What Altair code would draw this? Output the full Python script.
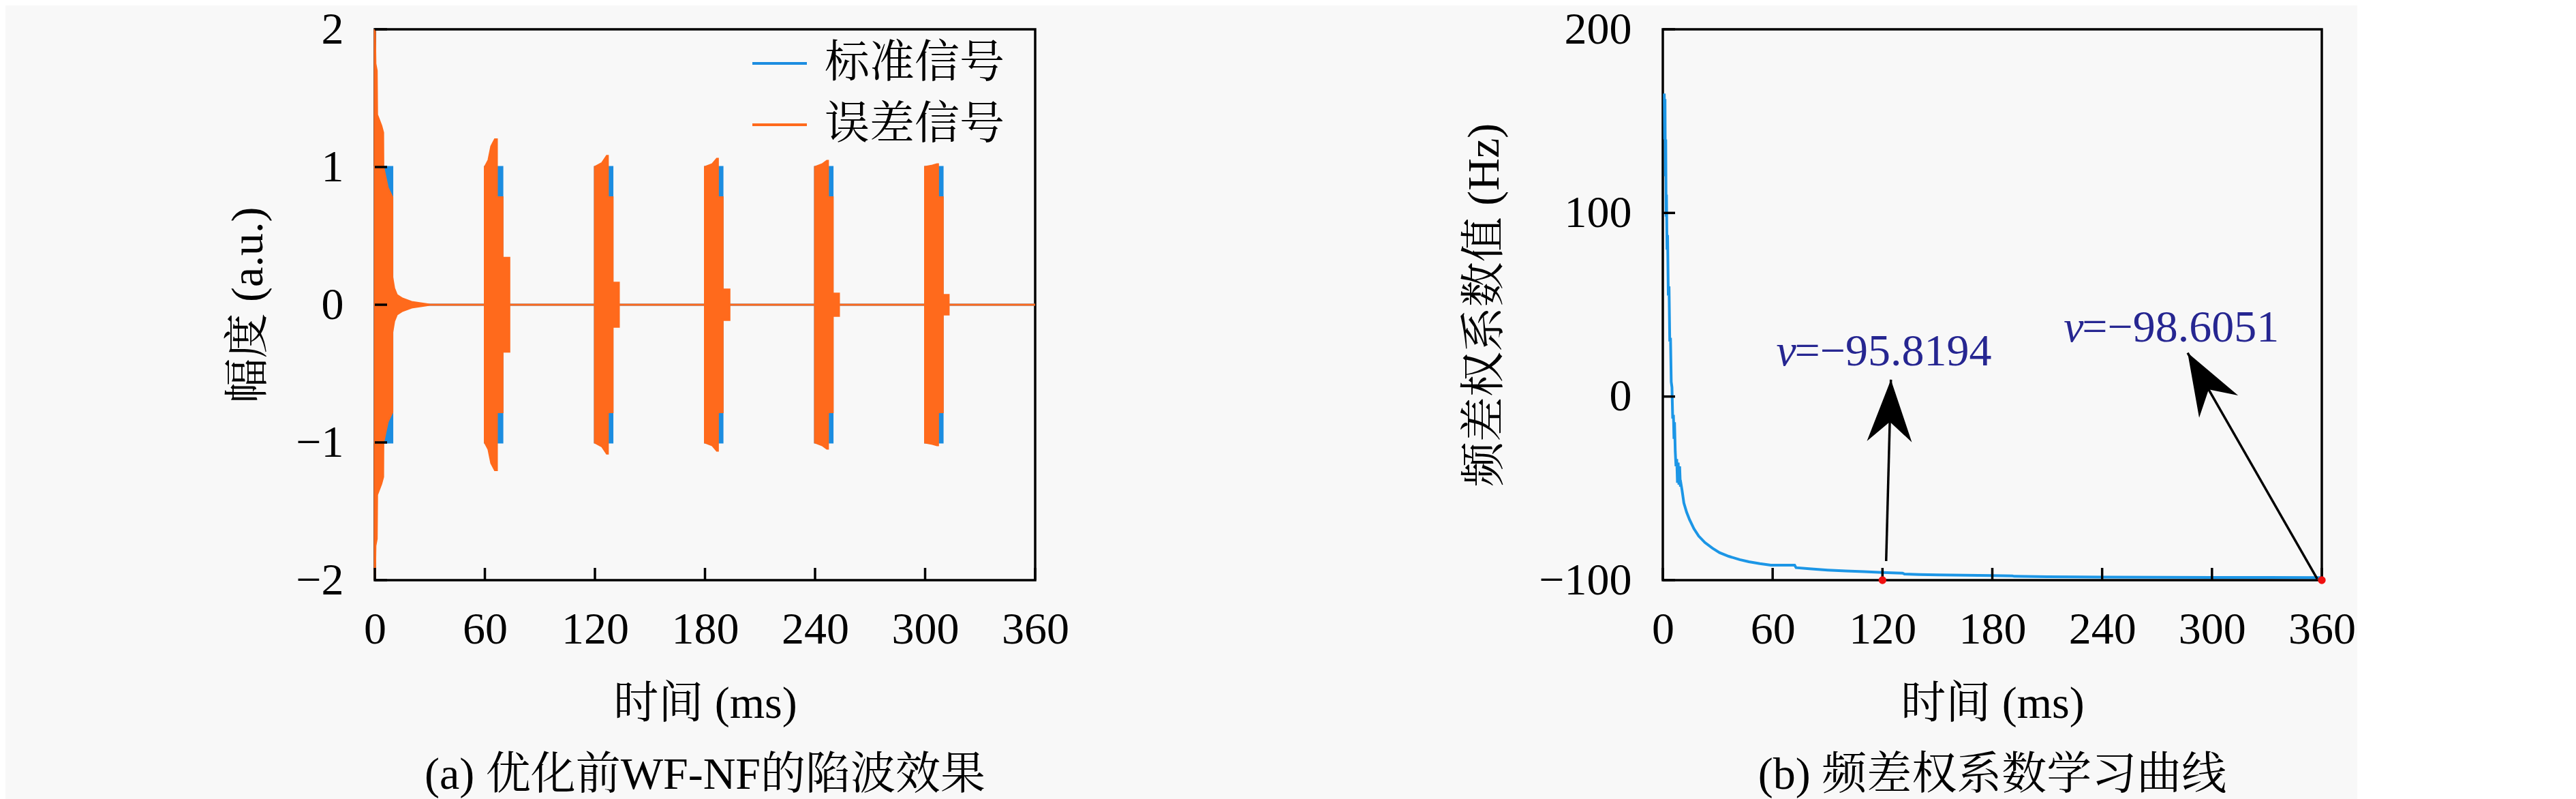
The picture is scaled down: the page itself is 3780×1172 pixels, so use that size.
import altair as alt
import pandas as pd

FONT = "Liberation Serif, Noto Serif CJK SC, Noto Sans CJK SC, serif"
BLUE = "#1C8DE0"
ORANGE = "#FF6A1C"
CURVE = "#1C96E6"
NAVY = "#262691"
BG = "#f8f8f8"

# ---------------- panel (a): signal envelopes ----------------
series_names = ["标准信号", "误差信号"]
series_colors = [BLUE, ORANGE]

std_t = [0, 0, 9.5, 9.5, 60, 60, 69.5, 69.5, 120, 120, 129.5, 129.5,
         180, 180, 189.5, 189.5, 240, 240, 249.5, 249.5, 300, 300, 309.5, 309.5, 360]
std_amp = [0, 1, 1, 0, 0, 1, 1, 0, 0, 1, 1, 0,
           0, 1, 1, 0, 0, 1, 1, 0, 0, 1, 1, 0, 0]

err_t = [0, 0, 0.3, 1.0, 1.2, 3.5, 4.5, 4.6, 7.0, 9.5, 9.5, 10.5, 12, 15, 20, 25, 30,
         60, 60, 62, 63.5, 65.5, 66.5, 66.5, 69.6, 69.6, 73.3, 73.3,
         120, 120, 124, 126.5, 127, 127, 129.6, 129.6, 133, 133,
         180, 180, 184, 186.5, 187, 187, 189.6, 189.6, 193.3, 193.3,
         240, 240, 244, 246.5, 247, 247, 249.6, 249.6, 253, 253,
         300, 300, 304, 306.5, 307, 307, 309.6, 309.6, 312.8, 312.8,
         360]
err_amp = [0, 2.0, 1.75, 1.7, 1.38, 1.3, 1.25, 1.0, 0.85, 0.78, 0.2, 0.12, 0.07, 0.045, 0.02, 0.01, 0,
           0, 1.0, 1.05, 1.15, 1.2, 1.2, 0.78, 0.78, 0.34, 0.34, 0,
           0, 1.0, 1.03, 1.08, 1.08, 0.78, 0.78, 0.16, 0.16, 0,
           0, 1.0, 1.02, 1.06, 1.06, 0.78, 0.78, 0.11, 0.11, 0,
           0, 1.0, 1.02, 1.045, 1.045, 0.78, 0.78, 0.08, 0.08, 0,
           0, 1.0, 1.01, 1.02, 1.02, 0.78, 0.78, 0.07, 0.07, 0,
           0]

a_x_ticks = [0, 60, 120, 180, 240, 300, 360]
a_y_ticks = [-2, -1, 0, 1, 2]

# ---------------- panel (b): learning curve ----------------
w_t = [0.8, 1.0, 1.2, 1.4, 1.6, 1.8, 2.0, 2.3, 2.6, 3.0, 3.4, 3.8, 4.2, 4.6, 5.0, 5.4, 5.8,
       6.1, 6.4, 6.8, 7.2, 7.6, 8.0, 8.4, 8.8, 9.2, 9.6, 10.0, 10.5, 11.5, 13, 14.6, 17, 19.6,
       23, 27, 31, 36, 42, 47, 53, 59, 65, 72, 72.8, 80, 90, 100, 110, 120, 128, 131, 132,
       140, 150, 165, 180, 191, 192, 210, 240, 270, 300, 330, 360]
w_val = [165, 140, 162, 120, 140, 98, 110, 80, 88, 55, 60, 30, 32, 8, 5, -12, -10,
         -23, -14, -30, -38, -34, -47, -36, -48, -38, -49, -48, -51, -58, -63, -67, -72, -76,
         -79.5, -82.5, -85, -87, -88.8, -90, -91, -91.8, -91.8, -91.8, -93.2, -93.8, -94.5, -95.0,
         -95.4, -95.82, -96.1, -96.2, -96.7, -96.9, -97.1, -97.3, -97.5, -97.7, -97.9, -98.1,
         -98.3, -98.4, -98.5, -98.55, -98.6]

b_x_ticks = [0, 60, 120, 180, 240, 300, 360]
b_y_ticks = [-100, 0, 100, 200]

dot_t = [120, 360]
dot_v = [-100, -100]

ann_v_symbol = ["v", "v"]
ann_text = ["=−95.8194", "=−98.6051"]
ann_t = [62, 219]
ann_val = [17, 30]

arrow_t0 = [122, 357.5]
arrow_v0 = [-89.6, -99.3]
arrow_t1 = [124.6, 286.7]
arrow_v1 = [9.2, 23.8]
arrow_angle = [1.4, 330]

ARROW_HEAD = "M0,0 L0.725,2 L0,1.36 L-0.725,2 Z"

# ---------------- build panel (a) ----------------
WA, WB, H = 969, 967, 808
TICK = 18

xs = alt.Scale(domain=[0, 360], nice=False, zero=False)
ya = alt.Scale(domain=[-2, 2], nice=False, zero=False)
yb = alt.Scale(domain=[-100, 200], nice=False, zero=False)

common_axis = dict(labelFlush=False, labelOverlap=False, labelBound=False)
x_axis_a = alt.Axis(values=a_x_ticks, title="时间 (ms)", labelPadding=40,
                    titleY=181, titleBaseline="middle", titleAlign="center", **common_axis)
y_axis_a = alt.Axis(values=a_y_ticks, title="幅度 (a.u.)", labelPadding=46,
                    titleX=-186, titleY=H / 2, titleAngle=270,
                    titleBaseline="middle", titleAlign="center", **common_axis)
x_axis_b = alt.Axis(values=b_x_ticks, title="时间 (ms)", labelPadding=40,
                    titleY=181, titleBaseline="middle", titleAlign="center", **common_axis)
y_axis_b = alt.Axis(values=b_y_ticks, title="频差权系数值 (Hz)", labelPadding=46,
                    titleX=-262, titleY=H / 2, titleAngle=270,
                    titleBaseline="middle", titleAlign="center", **common_axis)

color_scale = alt.Scale(domain=series_names, range=series_colors)
legend_a = alt.Legend(title=None, orient="none", legendX=552, legendY=8,
                      symbolType="stroke", symbolSize=6400, symbolStrokeWidth=4,
                      labelFontSize=66, labelFont=FONT, labelColor="black",
                      labelOffset=24, rowPadding=15, padding=0, labelLimit=0)

df_std = pd.DataFrame({"t": std_t, "amp": std_amp, "series": series_names[0]})
df_err = pd.DataFrame({"t": err_t, "amp": err_amp, "series": series_names[1]})


def envelope(df, stroke_color):
    return alt.Chart(df).mark_area(strokeWidth=3, stroke=stroke_color).transform_calculate(
        lo="-datum.amp"
    ).encode(
        x=alt.X("t:Q", scale=xs, axis=x_axis_a),
        y=alt.Y("amp:Q", scale=ya, axis=y_axis_a, stack=None),
        y2=alt.Y2("lo:Q"),
        fill=alt.Fill("series:N", scale=color_scale, legend=legend_a),
        stroke=alt.Stroke("series:N", scale=color_scale, legend=legend_a),
    )


a_std = envelope(df_std, BLUE)
a_err = envelope(df_err, ORANGE)

a_xt = alt.Chart(pd.DataFrame({"t": a_x_ticks})).mark_rule(color="black", strokeWidth=3.5).encode(
    x=alt.X("t:Q", scale=xs, axis=x_axis_a),
    y=alt.value(H), y2=alt.value(H - TICK))
a_yt = alt.Chart(pd.DataFrame({"amp": a_y_ticks})).mark_rule(color="black", strokeWidth=3.5).encode(
    y=alt.Y("amp:Q", scale=ya, axis=y_axis_a),
    x=alt.value(0), x2=alt.value(TICK))

panel_a = alt.layer(a_std, a_err, a_xt, a_yt).properties(
    width=WA, height=H,
    title=alt.Title("(a) 优化前WF-NF的陷波效果", orient="bottom", anchor="middle",
                    fontSize=66, fontWeight="normal", font=FONT, color="black",
                    offset=40, baseline="top"))

# ---------------- build panel (b) ----------------
df_w = pd.DataFrame({"t": w_t, "v": w_val})
b_line = alt.Chart(df_w).mark_line(color=CURVE, strokeWidth=4).encode(
    x=alt.X("t:Q", scale=xs, axis=x_axis_b),
    y=alt.Y("v:Q", scale=yb, axis=y_axis_b))

df_arrow = pd.DataFrame({"t0": arrow_t0, "v0": arrow_v0, "t1": arrow_t1,
                         "v1": arrow_v1, "ang": arrow_angle})
b_arrow = alt.Chart(df_arrow).mark_rule(color="black", strokeWidth=3.5).encode(
    x=alt.X("t0:Q", scale=xs, axis=x_axis_b),
    y=alt.Y("v0:Q", scale=yb, axis=y_axis_b),
    x2="t1:Q", y2="v1:Q")
b_head = alt.Chart(df_arrow).mark_point(shape=ARROW_HEAD, filled=True, color="black",
                                        size=8281, opacity=1, strokeWidth=0).encode(
    x=alt.X("t1:Q", scale=xs, axis=x_axis_b),
    y=alt.Y("v1:Q", scale=yb, axis=y_axis_b),
    angle=alt.Angle("ang:Q", scale=None))

df_dot = pd.DataFrame({"t": dot_t, "v": dot_v})
b_dot = alt.Chart(df_dot).mark_point(filled=True, color="#f01010", size=130, opacity=1).encode(
    x=alt.X("t:Q", scale=xs, axis=x_axis_b),
    y=alt.Y("v:Q", scale=yb, axis=y_axis_b))

df_ann = pd.DataFrame({"t": ann_t, "v": ann_val, "sym": ann_v_symbol, "txt": ann_text})
b_sym = alt.Chart(df_ann).mark_text(font=FONT, fontSize=66, color=NAVY, align="left",
                                    baseline="alphabetic", fontStyle="italic").encode(
    x=alt.X("t:Q", scale=xs, axis=x_axis_b),
    y=alt.Y("v:Q", scale=yb, axis=y_axis_b),
    text="sym:N")
b_txt = alt.Chart(df_ann).mark_text(font=FONT, fontSize=66, color=NAVY, align="left",
                                    baseline="alphabetic", dx=27).encode(
    x=alt.X("t:Q", scale=xs, axis=x_axis_b),
    y=alt.Y("v:Q", scale=yb, axis=y_axis_b),
    text="txt:N")

b_xt = alt.Chart(pd.DataFrame({"t": b_x_ticks})).mark_rule(color="black", strokeWidth=3.5).encode(
    x=alt.X("t:Q", scale=xs, axis=x_axis_b),
    y=alt.value(H), y2=alt.value(H - TICK))
b_yt = alt.Chart(pd.DataFrame({"v": b_y_ticks})).mark_rule(color="black", strokeWidth=3.5).encode(
    y=alt.Y("v:Q", scale=yb, axis=y_axis_b),
    x=alt.value(0), x2=alt.value(TICK))

panel_b = alt.layer(b_line, b_arrow, b_head, b_sym, b_txt, b_xt, b_yt, b_dot).properties(
    width=WB, height=H,
    title=alt.Title("(b) 频差权系数学习曲线", orient="bottom", anchor="middle",
                    fontSize=66, fontWeight="normal", font=FONT, color="black",
                    offset=40, baseline="top"))

chart = alt.hconcat(panel_a, panel_b, spacing=572).properties(
    background=BG,
    padding={"left": 321, "top": 0, "right": 0, "bottom": 0},
).configure_axis(
    labelFont=FONT, titleFont=FONT, labelFontSize=66, titleFontSize=66,
    titleFontWeight="normal", labelColor="black", titleColor="black",
    domain=False, ticks=False, tickSize=0, grid=False,
).configure_view(stroke="black", strokeWidth=3.5)

chart.save("out.html", embed_options={"renderer": "svg", "actions": False})
